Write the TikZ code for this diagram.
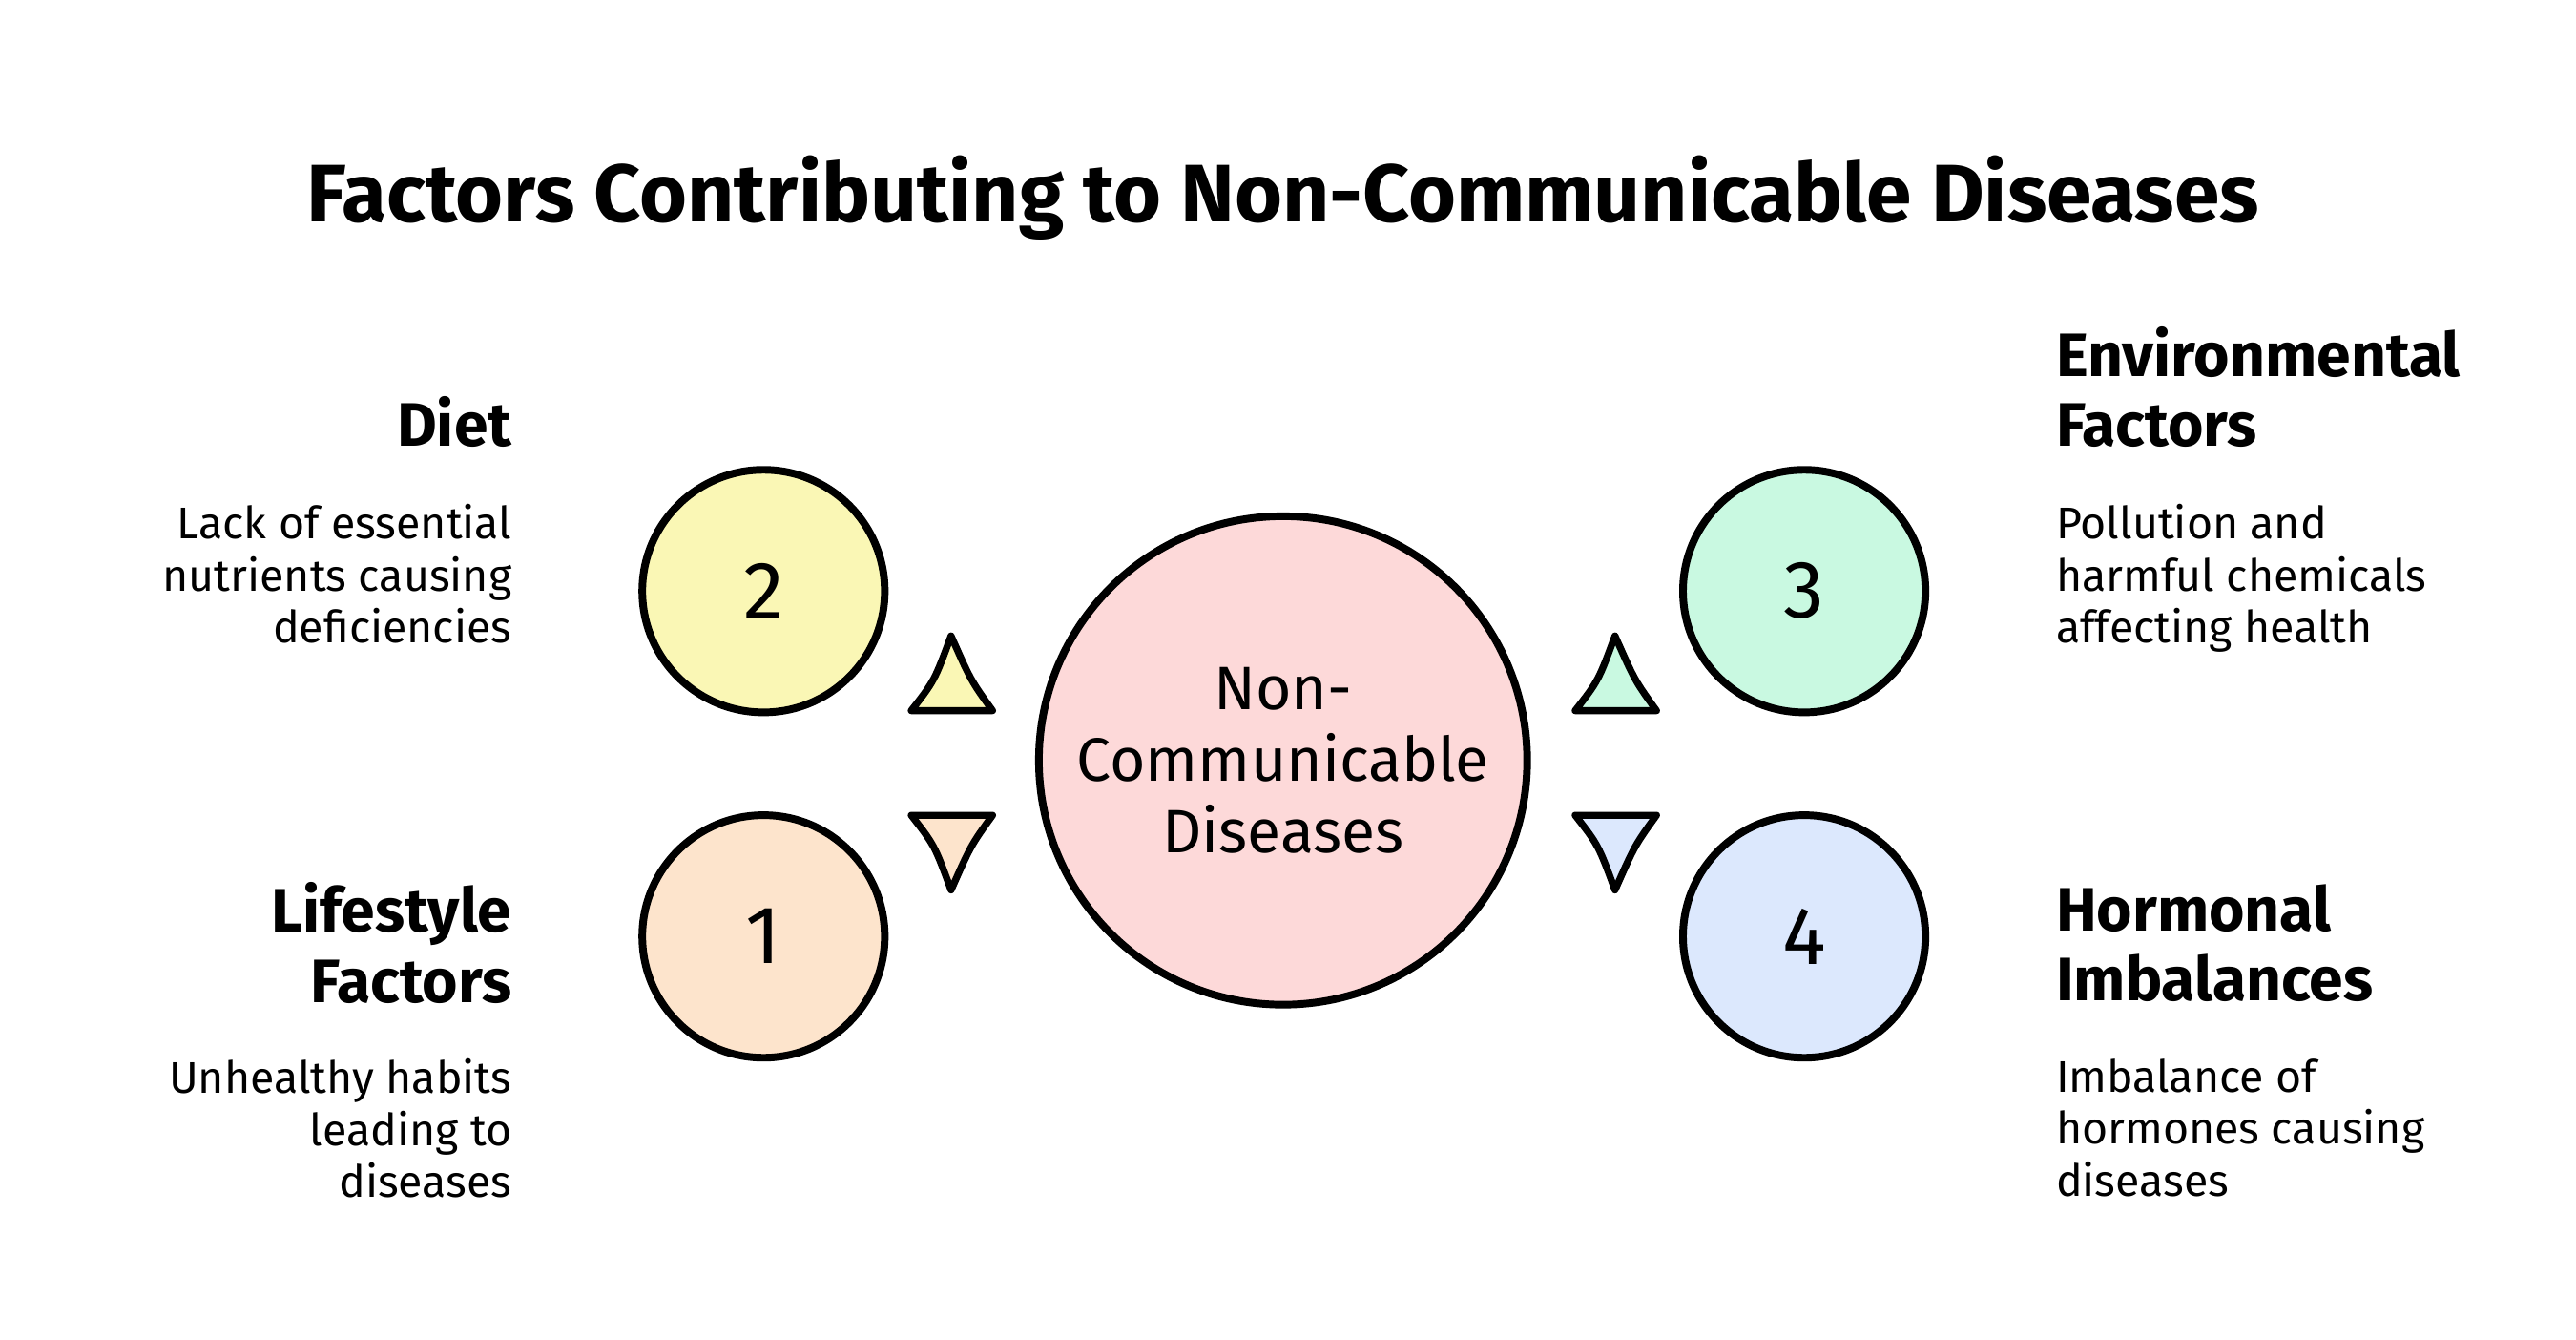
\documentclass[tikz,border=0pt]{standalone}
\usepackage{fontspec}
\setmainfont{Fira Sans}
\definecolor{cpink}{HTML}{FDD9D9}
\definecolor{cyel}{HTML}{FAF7B5}
\definecolor{corg}{HTML}{FDE4CC}
\definecolor{cgrn}{HTML}{C9F9E1}
\definecolor{cblu}{HTML}{DCE8FD}
\tikzset{
 circ/.style={circle,draw=black,line width=1.3pt,minimum size=1.46cm,inner sep=0pt,font=\fontsize{14}{16}\selectfont},
 tri/.style={draw=black,line width=1.2pt,line join=round},
 head/.style={font=\fontsize{10.5}{12}\bfseries\selectfont,inner sep=0pt},
 body/.style={font=\fontsize{7.6}{8.9}\selectfont,inner sep=0pt},
}
\begin{document}
\begin{tikzpicture}[x=0.01cm,y=-0.01cm]
\useasboundingbox[fill=white] (0,0) rectangle (1552,807);
\node[font=\fontsize{14}{16}\bfseries\selectfont] (title) at (773,119) {Factors Contributing to Non-Communicable Diseases};
\node[circ,fill=cpink,minimum size=2.94cm,align=center,font=\fontsize{10.5}{12.3}\selectfont] (c) at (773,458) {Non-\\Communicable\\Diseases};
\node[circ,fill=cyel] (n2) at (460,356) {2};
\node[circ,fill=corg] (n1) at (460,564) {1};
\node[circ,fill=cgrn] (n3) at (1087,356) {3};
\node[circ,fill=cblu] (n4) at (1087,564) {4};
\draw[tri,fill=cyel] (549,428) -- (598,428) .. controls (585,410) .. (573,383) .. controls (563,410) .. cycle;
\draw[tri,fill=corg] (549,491) -- (598,491) .. controls (585,509) .. (573,536) .. controls (563,509) .. cycle;
\draw[tri,fill=cgrn] (949,428) -- (998,428) .. controls (985,410) .. (973,383) .. controls (963,410) .. cycle;
\draw[tri,fill=cblu] (949,491) -- (998,491) .. controls (985,509) .. (973,536) .. controls (963,509) .. cycle;
\node[head,anchor=east,align=right] (h2) at (309,254) {Diet};
\node[body,anchor=north east,align=right] (d2) at (309,303) {Lack of essential\\nutrients causing\\deficiencies};
\node[head,anchor=east,align=right] (h1) at (309,568) {Lifestyle\\Factors};
\node[body,anchor=north east,align=right] (d1) at (309,637) {Unhealthy habits\\leading to\\diseases};
\node[head,anchor=west,align=left] (h3) at (1238,233) {Environmental\\Factors};
\node[body,anchor=north west,align=left] (d3) at (1238,303) {Pollution and\\harmful chemicals\\affecting health};
\node[head,anchor=west,align=left] (h4) at (1238,568) {Hormonal\\Imbalances};
\node[body,anchor=north west,align=left] (d4) at (1238,637) {Imbalance of\\hormones causing\\diseases};
\end{tikzpicture}
\end{document}
